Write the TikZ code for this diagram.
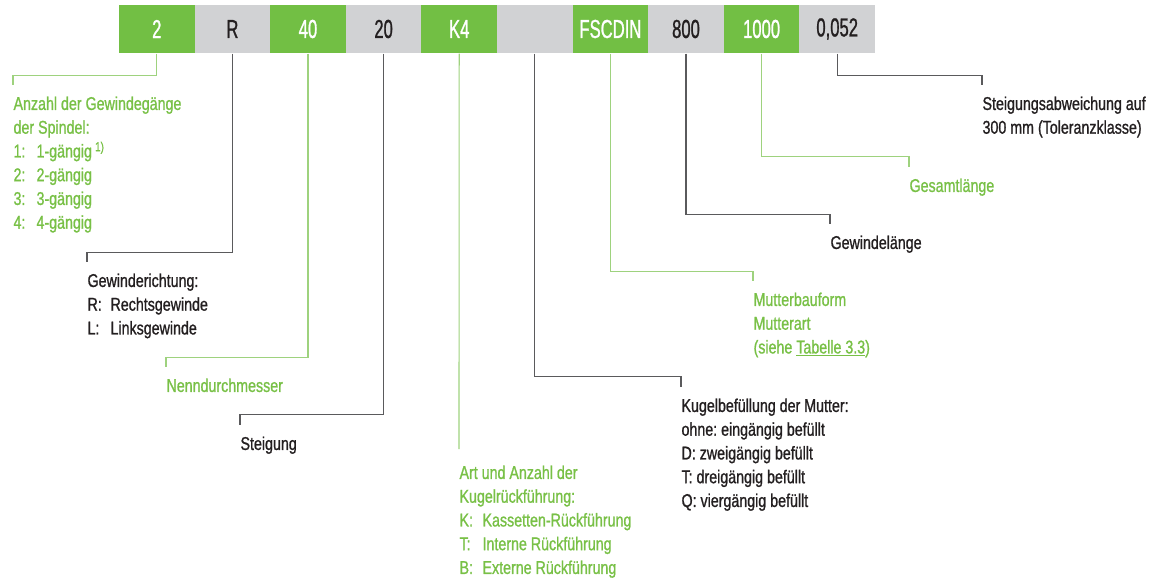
\documentclass[tikz,border=0pt]{standalone}
\usepackage{fontspec}
\setmainfont{Liberation Sans}[FakeStretch=0.77, FakeBold=1]
\newfontfamily\cellfont{Liberation Sans}[FakeStretch=0.64, FakeBold=1]
\usetikzlibrary{positioning}
\frenchspacing
\definecolor{cgreen}{HTML}{72BF44}
\definecolor{cgreentext}{HTML}{78C046}
\definecolor{cgreenline}{HTML}{9ED27E}
\definecolor{cgrey}{HTML}{D1D2D4}
\definecolor{cdark}{HTML}{231F20}
\definecolor{cline}{HTML}{5A5A5C}
\tikzset{
  every picture/.style={x=1pt, y=-1pt, line width=1.1pt},
  cell/.style={minimum width=75.6pt, minimum height=48pt, inner sep=0pt, font=\cellfont\fontsize{26}{28}\selectfont},
  gcell/.style={cell, fill=cgreen, text=white},
  ycell/.style={cell, fill=cgrey, text=cdark},
  note/.style={anchor=north west, inner sep=0pt, align=left, font=\fontsize{18.5}{23.75}\selectfont},
  gnote/.style={note, text=cgreentext},
  dnote/.style={note, text=cdark},
  leadg/.style={draw=cgreenline},
  leadd/.style={draw=cline},
}
\newcommand{\tb}[1]{\makebox[23pt][l]{#1}}

\begin{document}
\begin{tikzpicture}
  \useasboundingbox (0,0) rectangle (1159,578);

  % ---- the order code
  \foreach \txt/\kind [count=\i] in {2/gcell, R/ycell, 40/gcell, 20/ycell, K4/gcell, {}/ycell,
      FSCDIN/gcell, 800/ycell, 1000/gcell, {0,052}/ycell}
    \node[\kind] (c\i) at (119+75.6*\i-37.8, 29) {\txt};

  % ---- explanations
  \node[gnote] (num) at (13,96) {Anzahl der Gewindegänge\\der Spindel:\\
    \tb{1:}1-gängig\,\textsuperscript{1)}\\\tb{2:}2-gängig\\\tb{3:}3-gängig\\\tb{4:}4-gängig};
  \node[dnote] (dir) at (87,273) {Gewinderichtung:\\\tb{R:}Rechtsgewinde\\\tb{L:}Linksgewinde};
  \node[gnote] (dia) at (166,378) {Nenndurchmesser};
  \node[dnote] (pitch) at (240,436) {Steigung};
  \node[gnote] (ret) at (459,465) {Art und Anzahl der\\Kugelrückführung:\\
    \tb{K:}Kassetten-Rückführung\\\tb{T:}Interne Rückführung\\\tb{B:}Externe Rückführung};
  \node[dnote] (balls) at (681,398) {Kugelbefüllung der Mutter:\\ohne: eingängig befüllt\\
    D: zweigängig befüllt\\T: dreigängig befüllt\\Q: viergängig befüllt};
  \node[gnote] (nut) at (753,292) {Mutterbauform\\Mutterart\\(siehe \underline{Tabelle 3.3})};
  \node[dnote] (thread) at (830,235) {Gewindelänge};
  \node[gnote] (total) at (909,178) {Gesamtlänge};
  \node[dnote] (dev) at (982,96) {Steigungsabweichung auf\\300 mm (Toleranzklasse)};

  % ---- leader lines
  \foreach \c/\d/\n/\s in {1/22/num/leadg, 2/199/dir/leadd, 3/304/dia/leadg, 4/361/pitch/leadd,
      6/323/balls/leadd, 7/218/nut/leadg, 8/161/thread/leadd, 9/103/total/leadg, 10/22/dev/leadd}
    \draw[\s] (c\c.south) -- ++(0,\d) -| ([yshift=11pt]\n.north west);
  \draw[leadg] (c5.south) -- ([yshift=16pt]ret.north west);
\end{tikzpicture}
\end{document}
